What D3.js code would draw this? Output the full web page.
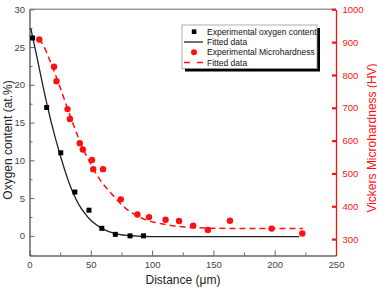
<!DOCTYPE html>
<html>
<head>
<meta charset="utf-8">
<script src="https://cdn.jsdelivr.net/npm/d3@7"></script>
<style>
body { margin: 0; background: #fff; }
text { font-family: "Liberation Sans", Arial, sans-serif; }
</style>
</head>
<body>
<script>
/*
*    oxygen content / microhardness vs distance
*/

// experimental oxygen content (at.%)
var oxygenDist = [2.5, 14, 25.5, 37, 48.5, 59, 70, 82, 93];
var oxygenVal = [26.2, 17, 11, 5.8, 3.4, 1.0, 0.2, 0, 0];

// fitted oxygen curve
var oxygenFitDist = [1, 5, 10, 15, 20, 25, 30, 35, 40, 45, 48, 55, 60, 70, 80, 90, 100, 220];
var oxygenFitVal = [27.5, 24.5, 20.6, 16.9, 13.6, 10.7, 8.1, 5.9, 4.2, 3.0, 2.4, 1.4, 0.9, 0.3, 0.05, -0.05, -0.1, -0.1];

// experimental microhardness (HV)
var hardDist = [8, 20, 22, 31, 33, 41, 43.5, 51, 52, 60, 74.5, 88, 97.5, 111, 122, 133.5, 145.5, 163.5, 197.5, 222.5];
var hardVal = [908, 825, 781, 696, 666, 592, 573, 541, 513, 513, 421, 375, 367, 359, 355, 341, 328, 356, 332, 317];

// fitted microhardness curve
var hardFitDist = [8, 12, 16, 20, 24, 28, 32, 36, 40, 45, 50, 55, 60, 65, 70, 75, 80, 90, 100, 110, 120, 135, 150, 180, 223];
var hardFitVal = [910, 885, 850, 812, 772, 730, 688, 647, 608, 565, 528, 495, 468, 446, 425, 405, 389, 366, 353, 345, 339, 335, 333, 332, 332];

var xTicks = [0, 50, 100, 150, 200, 250];
var xMinor = [25, 75, 125, 175, 225];
var leftTicks = [0, 5, 10, 15, 20, 25, 30];
var leftMinor = [-2.5, 2.5, 7.5, 12.5, 17.5, 22.5, 27.5];
var rightTicks = [300, 400, 500, 600, 700, 800, 900, 1000];

var legendLabels = ["Experimental oxygen content", "Fitted data", "Experimental Microhardness", "Fitted data"];

var margin = {top: 9.3, right: 41, bottom: 33.5, left: 29.5};
var width = 306.5;
var height = 246.2;
var red = "#ff1010";
var axisGrey = "#666";

var svg = d3.select("body")
    .append("svg")
        .attr("width", 377)
        .attr("height", 289);

var g = svg.append("g")
    .attr("transform", "translate(" + margin.left + ", " + margin.top + ")");

var x = d3.scaleLinear().domain([0, 250]).range([0, width]);
var yLeft = d3.scaleLinear().domain([-2.6, 30]).range([height, 0]);
var yRight = d3.scaleLinear().domain([250, 1000]).range([height, 0]);

// top frame
g.append("line")
    .attr("x1", 0).attr("x2", width)
    .attr("y1", 0).attr("y2", 0)
    .attr("stroke", "#999")
    .attr("stroke-width", 1.6);

// bottom axis
var bottomAxis = d3.axisBottom(x).tickValues(xTicks).tickSizeInner(-5).tickSizeOuter(0).tickPadding(6);
var bAxis = g.append("g")
    .attr("class", "bottom axis")
    .attr("transform", "translate(0, " + height + ")")
    .call(bottomAxis);
g.append("g")
    .attr("transform", "translate(0, " + height + ")")
    .call(d3.axisBottom(x).tickValues(xMinor).tickSizeInner(-3).tickSizeOuter(0).tickFormat(""))
    .select(".domain").remove();

// left axis
var leftAxis = d3.axisLeft(yLeft).tickValues(leftTicks).tickSizeInner(-5).tickSizeOuter(0).tickPadding(4.5);
var lAxis = g.append("g")
    .attr("class", "left axis")
    .call(leftAxis);
g.append("g")
    .call(d3.axisLeft(yLeft).tickValues(leftMinor).tickSizeInner(-3).tickSizeOuter(0).tickFormat(""))
    .select(".domain").remove();

[bAxis, lAxis].forEach((a) => {
    a.select(".domain").attr("stroke", axisGrey).attr("stroke-width", 1.5);
    a.selectAll("text").attr("font-size", "9.5px").attr("fill", "#444");
});
g.selectAll(".tick line").attr("stroke", axisGrey).attr("stroke-width", 1);

// right axis
var rightAxis = d3.axisRight(yRight).tickValues(rightTicks).tickFormat(d3.format("d"))
    .tickSizeInner(-4).tickSizeOuter(0).tickPadding(6.5);
var rAxis = g.append("g")
    .attr("class", "right axis")
    .attr("transform", "translate(" + width + ", 0)")
    .call(rightAxis);
rAxis.select(".domain").attr("stroke", red).attr("stroke-width", 1.3);
rAxis.selectAll(".tick line").attr("stroke", red).attr("stroke-width", 2.2);
rAxis.selectAll("text").attr("font-size", "9.5px").attr("fill", red);

// fitted curves
var oxyLine = d3.line()
    .x((d, i) => { return x(oxygenFitDist[i]); })
    .y((d) => { return yLeft(d); })
    .curve(d3.curveMonotoneX);

g.append("path")
    .attr("d", oxyLine(oxygenFitVal))
    .attr("fill", "none")
    .attr("stroke", "#222")
    .attr("stroke-width", 1.3);

var hardLine = d3.line()
    .x((d, i) => { return x(hardFitDist[i]); })
    .y((d) => { return yRight(d); })
    .curve(d3.curveMonotoneX);

g.append("path")
    .attr("d", hardLine(hardFitVal))
    .attr("fill", "none")
    .attr("stroke", red)
    .attr("stroke-width", 1.5)
    .attr("stroke-dasharray", "6,4");

// experimental points
g.selectAll("rect.oxy").data(oxygenVal)
    .enter()
    .append("rect")
        .attr("class", "oxy")
        .attr("width", 5)
        .attr("height", 5)
        .attr("x", (d, i) => { return x(oxygenDist[i]) - 2.5; })
        .attr("y", (d) => { return yLeft(d) - 2.5; })
        .attr("fill", "#000");

g.selectAll("circle.hard").data(hardVal)
    .enter()
    .append("circle")
        .attr("class", "hard")
        .attr("r", 3.2)
        .attr("cx", (d, i) => { return x(hardDist[i]); })
        .attr("cy", (d) => { return yRight(d); })
        .attr("fill", red);

// legend
var legend = svg.append("g").attr("transform", "translate(182, 25)");
legend.append("rect")
    .attr("x", 3).attr("y", 3)
    .attr("width", 135).attr("height", 43.5)
    .attr("fill", "#000");
legend.append("rect")
    .attr("width", 135).attr("height", 43.5)
    .attr("fill", "#fff")
    .attr("stroke", "#999")
    .attr("stroke-width", 0.8);

var rowY = [6.7, 17, 27.2, 37.5];
legend.append("rect")
    .attr("x", 9.8).attr("y", rowY[0] - 2.3)
    .attr("width", 4.6).attr("height", 4.6)
    .attr("fill", "#000");
legend.append("line")
    .attr("x1", 2).attr("x2", 21)
    .attr("y1", rowY[1]).attr("y2", rowY[1])
    .attr("stroke", "#222").attr("stroke-width", 1.3);
legend.append("circle")
    .attr("cx", 12).attr("cy", rowY[2])
    .attr("r", 3)
    .attr("fill", red);
legend.append("line")
    .attr("x1", 2).attr("x2", 21)
    .attr("y1", rowY[3]).attr("y2", rowY[3])
    .attr("stroke", red).attr("stroke-width", 1.5)
    .attr("stroke-dasharray", "6,7");

legend.selectAll("text.lab").data(legendLabels)
    .enter()
    .append("text")
        .attr("class", "lab")
        .attr("x", 25)
        .attr("y", (d, i) => { return rowY[i] + 3; })
        .attr("font-size", "8.5px")
        .attr("fill", "#111")
        .text((d) => { return d; });

// axis titles
svg.append("text")
    .attr("x", 183)
    .attr("y", 284)
    .attr("font-size", "12px")
    .attr("text-anchor", "middle")
    .style("fill", "#222")
    .text("Distance (\u03bcm)");

svg.append("text")
    .attr("x", -140)
    .attr("y", 11.5)
    .attr("font-size", "12px")
    .attr("text-anchor", "middle")
    .attr("transform", "rotate(-90)")
    .style("fill", "#222")
    .text("Oxygen content (at.%)");

svg.append("text")
    .attr("x", -138)
    .attr("y", 375.5)
    .attr("font-size", "12px")
    .attr("text-anchor", "middle")
    .attr("transform", "rotate(-90)")
    .style("fill", red)
    .text("Vickers Microhardness (HV)");
</script>
</body>
</html>
